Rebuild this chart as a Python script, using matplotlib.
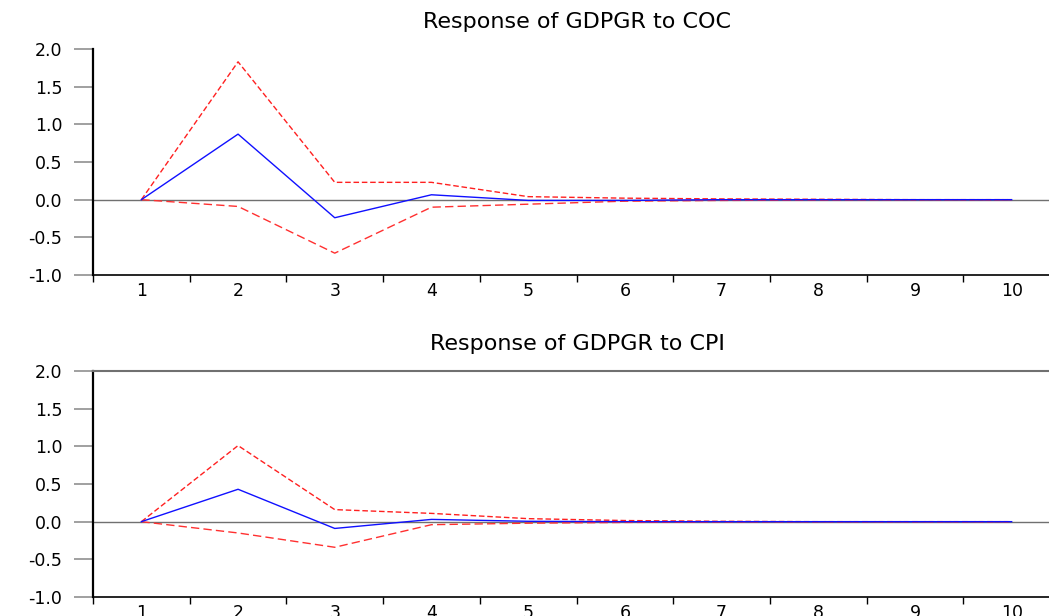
import matplotlib
matplotlib.use("Agg")
import matplotlib.pyplot as plt
from matplotlib.ticker import FixedLocator, NullFormatter

periods = [1, 2, 3, 4, 5, 6, 7, 8, 9, 10]
tick_labels = ["1", "2", "3", "4", "5", "6", "7", "8", "9", "10"]

coc_mean = [0.0, 0.87, -0.24, 0.065, -0.01, -0.01, 0.0, 0.0, 0.0, 0.0]
coc_upper = [0.0, 1.83, 0.23, 0.23, 0.04, 0.02, 0.01, 0.005, 0.0, 0.0]
coc_lower = [0.0, -0.09, -0.71, -0.10, -0.06, -0.02, -0.01, -0.005, 0.0, 0.0]

cpi_mean = [0.0, 0.43, -0.09, 0.03, 0.005, 0.0, 0.0, 0.0, 0.0, 0.0]
cpi_upper = [0.0, 1.01, 0.16, 0.11, 0.04, 0.015, 0.005, 0.0, 0.0, 0.0]
cpi_lower = [0.0, -0.15, -0.34, -0.04, -0.02, -0.01, -0.005, 0.0, 0.0, 0.0]

titles = ["Response of GDPGR to COC", "Response of GDPGR to CPI"]
yticks = [-1.0, -0.5, 0.0, 0.5, 1.0, 1.5, 2.0]

plt.rcParams['font.family'] = ['DejaVu Sans']

fig = plt.figure(figsize=(10.49, 6.16), dpi=100)
W, H = 1049, 616
left, right = 93, 1060
panels = [
    (49, 275, coc_mean, coc_upper, coc_lower, titles[0], False),
    (371, 597, cpi_mean, cpi_upper, cpi_lower, titles[1], True),
]
for top, bot, mean, up, lo, title, show_top in panels:
    ax = fig.add_axes([left / W, 1 - bot / H, (right - left) / W, (bot - top) / H])
    ax.set_xlim(0.5, 10.5)
    ax.set_ylim(-1.0, 2.0)
    ax.axhline(0, color="#707070", lw=1.0, zorder=1)
    ax.plot(periods, up, color="#ff2020", lw=1.0, dashes=(4, 2), zorder=3)
    ax.plot(periods, lo, color="#ff3030", lw=1.0, dashes=(6, 3), zorder=3)
    ax.plot(periods, mean, color="#1010ff", lw=1.0, zorder=4)
    ax.set_xticks(periods)
    ax.set_xticklabels(tick_labels)
    ax.xaxis.set_minor_locator(FixedLocator([0.5 + i for i in range(11)]))
    ax.xaxis.set_minor_formatter(NullFormatter())
    ax.tick_params(axis="x", which="major", length=0, pad=5, labelsize=12.5)
    ax.tick_params(axis="x", which="minor", length=5, width=1.0, direction="out", color="black")
    ax.set_yticks(yticks)
    ax.set_yticklabels(["%.1f" % v for v in yticks])
    ax.tick_params(axis="y", length=14, width=1.2, color="#909090", pad=8, labelsize=12.5)
    ax.spines["left"].set_linewidth(1.6)
    ax.spines["left"].set_color("black")
    ax.spines["bottom"].set_linewidth(1.2)
    ax.spines["bottom"].set_color("black")
    ax.spines["right"].set_visible(False)
    if show_top:
        ax.spines["top"].set_color("#707070")
        ax.spines["top"].set_linewidth(1.5)
    else:
        ax.spines["top"].set_visible(False)
    fig.text(577 / W, 1 - (top - 27) / H, title, ha="center", va="center", fontsize=16)

fig.savefig("out.png", dpi=100)
